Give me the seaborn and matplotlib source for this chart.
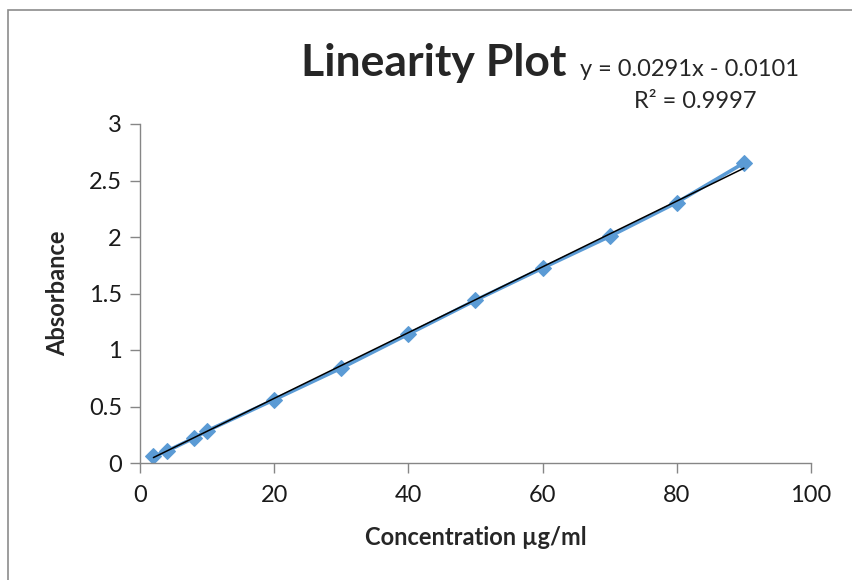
import numpy as np
import pandas as pd
import matplotlib
matplotlib.use("Agg")
import matplotlib.pyplot as plt
import seaborn as sns
from matplotlib.patches import Rectangle

# Datos
concentracion = [2, 4, 8, 10, 20, 30, 40, 50, 60, 70, 80, 90]
absorbancia = [0.06, 0.105, 0.22, 0.285, 0.56, 0.84, 1.14, 1.44, 1.725, 2.005, 2.305, 2.655]
pendiente = 0.0291
intercepto = -0.0101
r2 = 0.9997
xticks = [0, 20, 40, 60, 80, 100]
yticks = [0, 0.5, 1, 1.5, 2, 2.5, 3]

df = pd.DataFrame({"conc": concentracion, "abs": absorbancia})

sns.set_style("white")
plt.rcParams["font.family"] = ["Lato", "DejaVu Sans"]

fig = plt.figure(figsize=(8.53, 5.8), dpi=100)
ax = fig.add_axes([140 / 853, 1 - 463 / 580, (811 - 140) / 853, (463 - 124) / 580])

# Marco del área del gráfico
fig.patches.append(Rectangle((8 / 853, -0.1), 1.1, 1 - 10 / 580 + 0.1,
                             transform=fig.transFigure, fill=False,
                             edgecolor="#8c8c8c", lw=1.2, clip_on=False))

# Serie de datos
sns.lineplot(data=df, x="conc", y="abs", ax=ax, color="#5b9bd5", lw=2.6,
             marker="D", markersize=8, markeredgecolor="#5b9bd5")

# Línea de tendencia
linea = pd.DataFrame({"conc": [min(concentracion), max(concentracion)]})
linea["abs"] = pendiente * linea["conc"] + intercepto
sns.lineplot(data=linea, x="conc", y="abs", ax=ax, color="black", lw=1.1)

ax.set_xlim(0, 100)
ax.set_ylim(0, 3)
ax.set_xticks(xticks)
ax.set_yticks(yticks)
ax.set_xticklabels([str(t) for t in xticks], fontsize=17, color="#1a1a1a")
ax.set_yticklabels([("%g" % t) for t in yticks], fontsize=17, color="#1a1a1a")
ax.tick_params(axis="both", direction="out", length=7, width=1, color="#868686",
               bottom=True, left=True)
ax.tick_params(axis="x", pad=9)
ax.tick_params(axis="y", pad=6)
for s in ["top", "right"]:
    ax.spines[s].set_visible(False)
for s in ["left", "bottom"]:
    ax.spines[s].set_color("#868686")
    ax.spines[s].set_linewidth(1)

ax.set_xlabel("Concentration µg/ml", fontsize=17, fontweight="bold", labelpad=14)
ax.set_ylabel("Absorbance", fontsize=17, fontweight="bold", labelpad=14)

fig.text(434 / 853, 1 - 63 / 580, "Linearity Plot", fontsize=32, fontweight="bold",
         ha="center", va="center")
fig.text(690 / 853, 1 - 70 / 580, "y = %.4fx - %.4f" % (pendiente, -intercepto),
         fontsize=17, ha="center", va="center")
fig.text(695 / 853, 1 - 101 / 580, "R² = %.4f" % r2, fontsize=17, ha="center", va="center")

fig.savefig("out.png", dpi=100)
